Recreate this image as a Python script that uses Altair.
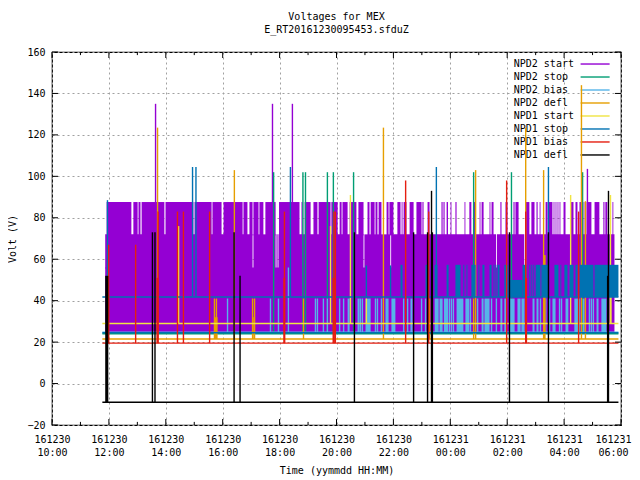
import altair as alt
import pandas as pd

FONT = "DejaVu Sans Mono"
# All times are hours after 161230 10:00, all values are volts.
SERIES = ["NPD2 start", "NPD2 stop", "NPD2 bias", "NPD2 defl",
          "NPD1 start", "NPD1 stop", "NPD1 bias", "NPD1 defl"]
COLORS = ["#9400d3", "#009e73", "#56b4e9", "#e69f00",
          "#f0e442", "#0072b2", "#e51e10", "#000000"]

T_FIRST = 1.77
T_LAST = 19.91

# NPD2 start: dense band with drop-outs
start_upper_gaps = [
    (2.79, 2.86), (3.01, 3.04), (3.11, 3.15), (3.95, 3.99), (4.97, 5.01), (5.61, 5.64),
    (5.96, 6.03), (6.70, 6.73), (6.87, 6.94), (7.05, 7.08), (7.26, 7.29), (7.43, 7.50),
    (7.86, 7.98), (8.70, 8.77), (8.81, 8.88), (9.09, 9.19), (9.33, 9.37), (9.79, 9.82),
    (10.04, 10.11), (10.18, 10.21), (10.39, 10.46), (10.70, 10.77), (10.95, 11.09),
    (11.16, 11.20), (11.34, 11.37), (11.44, 11.48), (11.58, 11.76), (11.83, 11.86),
    (12.00, 12.14), (12.25, 12.29), (12.32, 12.36), (12.46, 12.57), (12.71, 12.81),
    (12.99, 13.02), (13.06, 13.20), (13.27, 13.69), (13.73, 13.76), (13.80, 13.87),
    (13.92, 14.01), (14.04, 14.18), (14.22, 14.50), (14.53, 14.67), (14.74, 14.82),
    (14.89, 15.03), (15.06, 15.10), (15.17, 15.38), (15.41, 15.45), (15.52, 15.76),
    (15.80, 15.94), (16.01, 16.22), (16.26, 16.29), (16.40, 16.65), (16.78, 16.85),
    (16.96, 17.03), (17.07, 17.14), (17.17, 17.35), (17.42, 17.45), (17.59, 17.63),
    (17.66, 17.70), (17.73, 17.77), (17.80, 17.84), (17.87, 17.98), (18.05, 18.23),
    (18.33, 18.40), (18.47, 18.54), (18.68, 18.72), (18.75, 18.79), (18.96, 19.07),
    (19.24, 19.38), (19.42, 19.45), (19.52, 19.70), (19.73, 19.77),
]
start_middle_gaps = [(7.05, 7.08), (7.86, 7.89), (7.93, 7.96), (10.95, 10.98),
                     (11.89, 11.92), (15.61, 15.64), (16.60, 16.63)]
start_t = [3.64, 7.75, 8.45, 18.82]
start_v = [135, 135, 135, 103.6]

# NPD2 stop
stop2_t = [7.79, 8.82, 8.91, 9.68, 9.89, 10.60, 14.82, 16.15, 18.65]
stop2_v = [102, 102, 102, 102, 102, 102, 102, 102, 102]

# NPD2 bias
bias2_lines = [6.17, 7.68, 7.96, 9.26, 9.33, 9.54, 9.68, 10.11, 10.25, 10.84, 10.91, 11.37,
               11.44, 11.58, 12.36, 12.50, 12.99, 13.13, 13.80, 13.87, 13.83, 13.90, 13.97,
               14.04, 14.11, 14.71, 14.96, 15.45, 15.62, 17.17, 17.49, 17.84, 17.91, 18.54,
               18.89, 18.96, 19.03]
bias2_spans = [(10.39, 10.46), (10.74, 10.81), (11.02, 11.20), (11.72, 11.83), (11.93, 12.07),
               (12.60, 12.67), (13.45, 13.59), (13.62, 13.73), (14.22, 14.46), (14.53, 14.67),
               (15.10, 15.17), (15.20, 15.38), (15.76, 15.83), (15.90, 15.97), (16.08, 16.26),
               (16.36, 16.47), (16.50, 16.61), (16.89, 16.96), (17.03, 17.10), (17.35, 17.38),
               (17.59, 17.70), (18.05, 18.15), (18.36, 18.51), (18.65, 18.72), (19.14, 19.21),
               (19.31, 19.49)]
bias2_high_t = [8.31]
bias2_high_v = [56]

# NPD2 defl
defl2_t = [3.71, 6.41, 8.84, 11.65, 13.27, 13.34, 14.82, 14.89, 16.65, 17.28, 18.61, 18.75,
           5.71, 5.78, 7.05, 7.12]
defl2_v = [123.5, 103, 41, 123.5, 41, 41, 41, 103, 123.5, 103, 144, 88, 41, 41, 41, 41]
defl2_spans = [(5.71, 5.82), (7.05, 7.09), (17.28, 17.35)]
defl2_span_tops = [32, 32, 62]

# NPD1 start
start1_t = [4.45, 9.79, 10.49, 11.05, 18.23, 19.63]
start1_v = [76, 76, 91, 41, 91, 91]
start1_spans = [(19.60, 19.67)]
start1_span_tops = [54]

# NPD1 stop
stop1_t = [1.95, 4.94, 5.06, 8.38, 11.05, 11.90, 13.51, 17.45]
stop1_v = [88.5, 104.5, 104.5, 104.5, 57, 57, 104.5, 104.5]
stop1_spans = [
    (12.25, 12.32), (13.13, 13.20), (13.45, 13.55), (13.87, 13.94), (14.18, 14.36),
    (14.46, 14.49), (14.57, 14.60), (14.74, 14.89), (14.99, 15.02), (15.13, 15.20),
    (15.38, 15.45), (15.52, 15.55), (15.59, 15.62), (15.66, 15.73), (15.90, 16.04),
    (16.54, 16.68), (16.78, 16.81), (16.85, 16.88), (16.92, 16.95), (17.00, 17.17),
    (17.20, 17.45), (17.66, 17.80), (17.87, 17.90), (18.01, 18.12), (18.19, 18.33),
    (18.40, 18.47), (18.54, 19.03), (19.07, 19.91),
]
stop1_low_spans = [(16.04, 16.54)]
stop1_low_top = 50

# NPD1 bias
bias1_t = [1.99, 2.94, 3.73, 4.41, 4.62, 5.54, 8.17, 9.91, 9.96, 12.43, 13.24, 15.98, 16.65,
           18.51]
bias1_v = [67, 67, 83, 83, 83, 83, 83, 83, 83, 98, 83, 98, 83, 83]
bias1_spans = [(1.97, 2.01), (3.67, 3.74), (8.13, 8.20), (9.86, 9.94), (16.63, 16.70)]
bias1_span_tops = [43, 51, 51, 51, 51]

# NPD1 defl
defl1_t = [3.53, 3.62, 6.40, 6.61, 10.63, 12.71, 13.20, 13.34, 13.37, 16.08, 17.45, 19.53,
           19.56]
defl1_v = [73, 73, 73, 52, 73, 73, 73, 93, 73, 73, 73, 52, 93]
defl1_spans = [(1.87, 1.98)]
defl1_span_tops = [52]

BASE = {"start": 24.4, "stop2": 24.0, "bias2": 24.8, "defl2": 21.5, "start1": 29.0,
        "stop1": 41.8, "stop1b": 24.5, "bias1": 19.5, "defl1": -9.0}

MAJOR_X = [0, 2, 4, 6, 8, 10, 12, 14, 16, 18, 20]
MINOR_X = [1, 3, 5, 7, 9, 11, 13, 15, 17, 19]
Y_TICKS = [-20, 0, 20, 40, 60, 80, 100, 120, 140, 160]
LINE = 1.4

X_SCALE = alt.Scale(domain=[0, 20], nice=False, zero=False)
Y_SCALE = alt.Scale(domain=[-20, 160], nice=False, zero=False)
X_TITLE = "Time (yymmdd HH:MM)"
Y_TITLE = "Volt (V)"
label_expr = ("[datum.value < 14 ? '161230' : '161231', "
              "((10 + datum.value) % 24 < 10 ? '0' : '') + ((10 + datum.value) % 24) + ':00']")
X_AXIS = alt.Axis(values=MAJOR_X, labelExpr=label_expr, ticks=False, domain=False,
                  grid=True, gridDash=[2, 3], gridColor="#a0a0a0", gridWidth=1,
                  labelFont=FONT, labelFontSize=10, labelColor="black",
                  labelLineHeight=13, labelPadding=9, labelOverlap=False,
                  labelFlush=False, titleFont=FONT, titleFontSize=10,
                  labelOffset={"condition": {"test": "datum.value == 20", "value": -8}, "value": 0},
                  titleFontWeight="normal", titlePadding=8, titleColor="black")
Y_AXIS = alt.Axis(values=Y_TICKS, ticks=False, domain=False, grid=True,
                  gridDash=[2, 3], gridColor="#a0a0a0", gridWidth=1,
                  labelFont=FONT, labelFontSize=10, labelColor="black",
                  labelPadding=7, labelOverlap=False, labelFlush=False,
                  titleFont=FONT, titleFontSize=10, titleFontWeight="normal",
                  titlePadding=9, titleColor="black")
X = lambda f: alt.X(f, type="quantitative", scale=X_SCALE, axis=X_AXIS, title=X_TITLE)
Y = lambda f: alt.Y(f, type="quantitative", scale=Y_SCALE, axis=Y_AXIS, title=Y_TITLE)


def fill_between(first, last, gaps):
    starts = [first] + [g[1] for g in gaps]
    ends = [g[0] for g in gaps] + [last]
    return [(a, b) for a, b in zip(starts, ends) if b > a]


def rects(spans, lo, hi, color):
    tops = hi if isinstance(hi, list) else [hi] * len(spans)
    df = pd.DataFrame({"a": [s[0] for s in spans], "b": [s[1] for s in spans],
                       "lo": [lo] * len(spans), "hi": tops})
    return alt.Chart(df).mark_rect(color=color, stroke=None, opacity=1).encode(
        x=X("a"), x2="b", y=Y("lo"), y2="hi")


def spikes(times, tops, lo, color, width=LINE):
    df = pd.DataFrame({"t": times, "v": tops, "lo": [lo] * len(times)})
    return alt.Chart(df).mark_rule(color=color, strokeWidth=width).encode(
        x=X("t"), y=Y("lo"), y2="v")


def baseline(value, color, width=LINE):
    df = pd.DataFrame({"a": [T_FIRST], "b": [T_LAST], "v": [value]})
    return alt.Chart(df).mark_rule(color=color, strokeWidth=width).encode(
        x=X("a"), x2="b", y=Y("v"))


# Legend drawn inside the plot
legend_df = pd.DataFrame({"name": SERIES, "color": COLORS, "row": list(range(len(SERIES)))})
legend_base = alt.Chart(legend_df).transform_calculate(
    v="154.2 - 6.27 * datum.row", tx="16.23", a="18.58", b="19.60")
legend_text = legend_base.mark_text(align="left", baseline="middle", font=FONT, fontSize=10,
                                    color="black").encode(
    x=X("tx"), y=Y("v"), text="name:N")
legend_lines = legend_base.mark_rule(strokeWidth=LINE).encode(
    x=X("a"), x2="b", y=Y("v"), color=alt.Color("color:N", scale=None, legend=None))

layers = [
    legend_text, legend_lines,
    # NPD2 start
    rects(fill_between(1.92, 19.77, start_upper_gaps), 71.5, 87.6, COLORS[0]),
    rects(fill_between(1.87, 19.77, start_middle_gaps), 55.5, 72, COLORS[0]),
    rects([(1.87, 19.77)], 24.4, 56, COLORS[0]),
    spikes(start_t, start_v, 72, COLORS[0]),
    # NPD2 stop
    baseline(BASE["stop2"], COLORS[1]),
    spikes(stop2_t, stop2_v, BASE["stop2"], COLORS[1]),
    # NPD2 bias
    baseline(BASE["bias2"], COLORS[2]),
    spikes(bias2_lines, [41] * len(bias2_lines), BASE["bias2"], COLORS[2]),
    rects(bias2_spans, BASE["bias2"], 41, COLORS[2]),
    spikes(bias2_high_t, bias2_high_v, BASE["bias2"], COLORS[2]),
    # NPD2 defl
    baseline(BASE["defl2"], COLORS[3]),
    spikes(defl2_t, defl2_v, BASE["defl2"], COLORS[3]),
    rects(defl2_spans, BASE["defl2"], defl2_span_tops, COLORS[3]),
    # NPD1 start
    baseline(BASE["start1"], COLORS[4]),
    spikes(start1_t, start1_v, BASE["start1"], COLORS[4]),
    rects(start1_spans, BASE["start1"], start1_span_tops, COLORS[4]),
    # NPD1 stop
    baseline(BASE["stop1"], COLORS[5]),
    baseline(BASE["stop1b"], COLORS[5]),
    spikes(stop1_t, stop1_v, BASE["stop1"], COLORS[5]),
    rects(stop1_spans, BASE["stop1"], 57.3, COLORS[5]),
    rects(stop1_low_spans, BASE["stop1"], stop1_low_top, COLORS[5]),
    # NPD1 bias
    baseline(BASE["bias1"], COLORS[6]),
    spikes(bias1_t, bias1_v, BASE["bias1"], COLORS[6]),
    rects(bias1_spans, BASE["bias1"], bias1_span_tops, COLORS[6]),
    # NPD1 defl
    baseline(BASE["defl1"], COLORS[7]),
    spikes(defl1_t, defl1_v, BASE["defl1"], COLORS[7]),
    rects(defl1_spans, BASE["defl1"], defl1_span_tops, COLORS[7]),
]

# Inward tick marks on all four sides
tick_rows = ([(t, -20, -17.1) for t in MAJOR_X] + [(t, 160, 157.1) for t in MAJOR_X]
             + [(t, -20, -18.5) for t in MINOR_X] + [(t, 160, 158.5) for t in MINOR_X])
xticks = alt.Chart(pd.DataFrame(tick_rows, columns=["t", "a", "b"])).mark_rule(
    color="black", strokeWidth=1).encode(x=X("t"), y=Y("a"), y2="b")
ytick_rows = ([(0, 0.21, v) for v in Y_TICKS] + [(20, 19.79, v) for v in Y_TICKS])
yticks = alt.Chart(pd.DataFrame(ytick_rows, columns=["a", "b", "v"])).mark_rule(
    color="black", strokeWidth=1).encode(x=X("a"), x2="b", y=Y("v"))
layers += [xticks, yticks]

chart = alt.layer(*layers).properties(
    width=569, height=373,
    padding={"left": 44, "top": 44, "right": 11, "bottom": 52},
    autosize=alt.AutoSizeParams(type="none"),
    title=alt.TitleParams(text=["Voltages for MEX", "E_RT20161230095453.sfduZ"],
                          font=FONT, fontSize=10, fontWeight="normal", color="black",
                          anchor="middle", lineHeight=13, offset=12),
    background="white",
).configure_view(stroke="black", strokeWidth=1.2)

chart.save("out.html", embed_options={"renderer": "svg", "actions": False})
